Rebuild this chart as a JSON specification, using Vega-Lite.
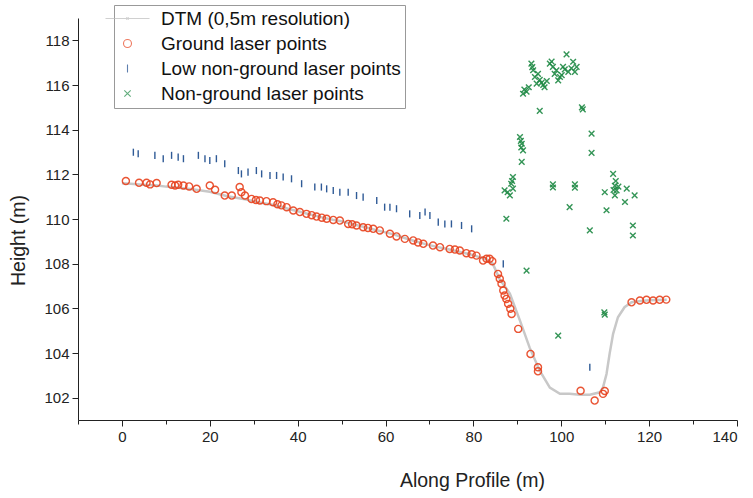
{
  "$schema": "https://vega.github.io/schema/vega-lite/v6.json",
  "width": 659,
  "height": 402,
  "autosize": {"type": "none"},
  "padding": {"left": 78, "top": 18, "right": 16, "bottom": 78},
  "background": "white",
  "config": {
    "view": {"stroke": null},
    "font": "Liberation Sans",
    "axis": {"grid": false, "domainColor": "#222", "tickColor": "#222", "labelColor": "#222", "titleColor": "#222", "labelFont": "Liberation Sans", "titleFont": "Liberation Sans", "labelFontSize": 15, "titleFontSize": 19.5, "titleFontWeight": "normal"}
  },
  "datasets": {
    "dtm": [
      {"x": 0, "h": 111.6}, {"x": 2, "h": 111.58}, {"x": 4, "h": 111.55}, {"x": 6, "h": 111.52}, {"x": 8, "h": 111.5},
      {"x": 10, "h": 111.45}, {"x": 12, "h": 111.42}, {"x": 14, "h": 111.38}, {"x": 16, "h": 111.33}, {"x": 18, "h": 111.28},
      {"x": 20, "h": 111.22}, {"x": 22, "h": 111.12}, {"x": 24, "h": 111.02}, {"x": 26, "h": 110.95}, {"x": 28, "h": 110.88},
      {"x": 30, "h": 110.8}, {"x": 32, "h": 110.72}, {"x": 34, "h": 110.65}, {"x": 36, "h": 110.56}, {"x": 38, "h": 110.45},
      {"x": 40, "h": 110.35}, {"x": 42, "h": 110.25}, {"x": 44, "h": 110.15}, {"x": 46, "h": 110.05}, {"x": 48, "h": 109.97},
      {"x": 50, "h": 109.9}, {"x": 52, "h": 109.8}, {"x": 54, "h": 109.7}, {"x": 56, "h": 109.6}, {"x": 58, "h": 109.5},
      {"x": 60, "h": 109.4}, {"x": 62, "h": 109.3}, {"x": 64, "h": 109.17}, {"x": 66, "h": 109.05}, {"x": 68, "h": 108.93},
      {"x": 70, "h": 108.83}, {"x": 72, "h": 108.74}, {"x": 74, "h": 108.66}, {"x": 76, "h": 108.57}, {"x": 78, "h": 108.48},
      {"x": 80, "h": 108.38}, {"x": 82, "h": 108.25}, {"x": 83, "h": 108.2}, {"x": 84.4, "h": 108.0}, {"x": 86, "h": 107.3},
      {"x": 88.3, "h": 106.66}, {"x": 90.6, "h": 105.45}, {"x": 92.8, "h": 104.24}, {"x": 95.1, "h": 103.21}, {"x": 97.4, "h": 102.45},
      {"x": 99.7, "h": 102.17}, {"x": 101.9, "h": 102.17}, {"x": 104.2, "h": 102.13}, {"x": 106.5, "h": 102.13}, {"x": 108.8, "h": 102.24},
      {"x": 109.5, "h": 102.46}, {"x": 110.3, "h": 103.06}, {"x": 111, "h": 103.96}, {"x": 111.8, "h": 104.86}, {"x": 112.9, "h": 105.6},
      {"x": 114.4, "h": 106.05}, {"x": 116, "h": 106.27}, {"x": 118, "h": 106.33}, {"x": 120, "h": 106.36}, {"x": 122, "h": 106.37}, {"x": 124, "h": 106.38}
    ],
    "pts": [
      {"s": "Ground laser points", "x": 0.9, "h": 111.7}, {"s": "Ground laser points", "x": 3.9, "h": 111.62}, {"s": "Ground laser points", "x": 5.6, "h": 111.62},
      {"s": "Ground laser points", "x": 6.4, "h": 111.55}, {"s": "Ground laser points", "x": 7.9, "h": 111.61}, {"s": "Ground laser points", "x": 11.3, "h": 111.53},
      {"s": "Ground laser points", "x": 12.1, "h": 111.5}, {"s": "Ground laser points", "x": 12.8, "h": 111.53}, {"s": "Ground laser points", "x": 14.0, "h": 111.5},
      {"s": "Ground laser points", "x": 15.3, "h": 111.46}, {"s": "Ground laser points", "x": 17.0, "h": 111.35}, {"s": "Ground laser points", "x": 20.0, "h": 111.5},
      {"s": "Ground laser points", "x": 21.2, "h": 111.31}, {"s": "Ground laser points", "x": 23.4, "h": 111.05}, {"s": "Ground laser points", "x": 25.0, "h": 111.05},
      {"s": "Ground laser points", "x": 26.8, "h": 111.43}, {"s": "Ground laser points", "x": 27.2, "h": 111.2}, {"s": "Ground laser points", "x": 28.0, "h": 111.05},
      {"s": "Ground laser points", "x": 29.5, "h": 110.9}, {"s": "Ground laser points", "x": 30.5, "h": 110.85}, {"s": "Ground laser points", "x": 31.4, "h": 110.83},
      {"s": "Ground laser points", "x": 32.9, "h": 110.8}, {"s": "Ground laser points", "x": 34.4, "h": 110.75}, {"s": "Ground laser points", "x": 35.4, "h": 110.66},
      {"s": "Ground laser points", "x": 36.3, "h": 110.61}, {"s": "Ground laser points", "x": 37.5, "h": 110.53}, {"s": "Ground laser points", "x": 39.0, "h": 110.38},
      {"s": "Ground laser points", "x": 40.5, "h": 110.31}, {"s": "Ground laser points", "x": 42.0, "h": 110.23}, {"s": "Ground laser points", "x": 43.2, "h": 110.17},
      {"s": "Ground laser points", "x": 44.3, "h": 110.11}, {"s": "Ground laser points", "x": 45.5, "h": 110.06}, {"s": "Ground laser points", "x": 46.6, "h": 110.01},
      {"s": "Ground laser points", "x": 48.1, "h": 109.96}, {"s": "Ground laser points", "x": 49.6, "h": 109.93}, {"s": "Ground laser points", "x": 51.5, "h": 109.78},
      {"s": "Ground laser points", "x": 52.4, "h": 109.76}, {"s": "Ground laser points", "x": 53.4, "h": 109.71}, {"s": "Ground laser points", "x": 54.9, "h": 109.63},
      {"s": "Ground laser points", "x": 56.0, "h": 109.6}, {"s": "Ground laser points", "x": 57.2, "h": 109.56}, {"s": "Ground laser points", "x": 58.7, "h": 109.49},
      {"s": "Ground laser points", "x": 61.0, "h": 109.34}, {"s": "Ground laser points", "x": 62.5, "h": 109.22}, {"s": "Ground laser points", "x": 64.4, "h": 109.11},
      {"s": "Ground laser points", "x": 66.3, "h": 109.04}, {"s": "Ground laser points", "x": 67.4, "h": 108.95}, {"s": "Ground laser points", "x": 68.6, "h": 108.89},
      {"s": "Ground laser points", "x": 70.8, "h": 108.81}, {"s": "Ground laser points", "x": 72.4, "h": 108.74}, {"s": "Ground laser points", "x": 74.6, "h": 108.66},
      {"s": "Ground laser points", "x": 75.8, "h": 108.63}, {"s": "Ground laser points", "x": 76.9, "h": 108.59}, {"s": "Ground laser points", "x": 78.4, "h": 108.47},
      {"s": "Ground laser points", "x": 79.6, "h": 108.42}, {"s": "Ground laser points", "x": 80.7, "h": 108.36}, {"s": "Ground laser points", "x": 82.2, "h": 108.14},
      {"s": "Ground laser points", "x": 83.0, "h": 108.22}, {"s": "Ground laser points", "x": 83.7, "h": 108.22}, {"s": "Ground laser points", "x": 84.3, "h": 108.11},
      {"s": "Ground laser points", "x": 85.6, "h": 107.54}, {"s": "Ground laser points", "x": 86.0, "h": 107.32}, {"s": "Ground laser points", "x": 86.4, "h": 107.1},
      {"s": "Ground laser points", "x": 86.8, "h": 106.8}, {"s": "Ground laser points", "x": 87.1, "h": 106.57}, {"s": "Ground laser points", "x": 87.5, "h": 106.42},
      {"s": "Ground laser points", "x": 87.9, "h": 106.2}, {"s": "Ground laser points", "x": 88.4, "h": 105.98}, {"s": "Ground laser points", "x": 88.7, "h": 105.75},
      {"s": "Ground laser points", "x": 90.2, "h": 105.08}, {"s": "Ground laser points", "x": 93.0, "h": 103.96}, {"s": "Ground laser points", "x": 94.7, "h": 103.36},
      {"s": "Ground laser points", "x": 94.7, "h": 103.18}, {"s": "Ground laser points", "x": 104.4, "h": 102.31}, {"s": "Ground laser points", "x": 107.6, "h": 101.87},
      {"s": "Ground laser points", "x": 109.5, "h": 102.17}, {"s": "Ground laser points", "x": 109.9, "h": 102.3}, {"s": "Ground laser points", "x": 116.0, "h": 106.27},
      {"s": "Ground laser points", "x": 117.9, "h": 106.35}, {"s": "Ground laser points", "x": 119.4, "h": 106.38}, {"s": "Ground laser points", "x": 120.9, "h": 106.35},
      {"s": "Ground laser points", "x": 122.4, "h": 106.38}, {"s": "Ground laser points", "x": 123.9, "h": 106.39},
      {"s": "Low non-ground laser points", "x": 2.6, "h": 112.99}, {"s": "Low non-ground laser points", "x": 3.7, "h": 112.92}, {"s": "Low non-ground laser points", "x": 7.5, "h": 112.85},
      {"s": "Low non-ground laser points", "x": 9.4, "h": 112.7}, {"s": "Low non-ground laser points", "x": 11.3, "h": 112.85}, {"s": "Low non-ground laser points", "x": 12.8, "h": 112.77},
      {"s": "Low non-ground laser points", "x": 14.0, "h": 112.7}, {"s": "Low non-ground laser points", "x": 17.4, "h": 112.85}, {"s": "Low non-ground laser points", "x": 18.9, "h": 112.7},
      {"s": "Low non-ground laser points", "x": 20.0, "h": 112.62}, {"s": "Low non-ground laser points", "x": 21.5, "h": 112.7}, {"s": "Low non-ground laser points", "x": 23.4, "h": 112.47},
      {"s": "Low non-ground laser points", "x": 26.5, "h": 112.17}, {"s": "Low non-ground laser points", "x": 27.2, "h": 112.02}, {"s": "Low non-ground laser points", "x": 28.7, "h": 112.1},
      {"s": "Low non-ground laser points", "x": 30.6, "h": 112.17}, {"s": "Low non-ground laser points", "x": 31.8, "h": 112.02}, {"s": "Low non-ground laser points", "x": 33.7, "h": 111.95},
      {"s": "Low non-ground laser points", "x": 35.2, "h": 111.95}, {"s": "Low non-ground laser points", "x": 36.7, "h": 111.88}, {"s": "Low non-ground laser points", "x": 38.6, "h": 111.8},
      {"s": "Low non-ground laser points", "x": 40.9, "h": 111.58}, {"s": "Low non-ground laser points", "x": 43.9, "h": 111.43}, {"s": "Low non-ground laser points", "x": 45.4, "h": 111.43},
      {"s": "Low non-ground laser points", "x": 46.6, "h": 111.35}, {"s": "Low non-ground laser points", "x": 48.1, "h": 111.28}, {"s": "Low non-ground laser points", "x": 49.6, "h": 111.2},
      {"s": "Low non-ground laser points", "x": 51.5, "h": 111.2}, {"s": "Low non-ground laser points", "x": 53.4, "h": 111.05}, {"s": "Low non-ground laser points", "x": 54.9, "h": 110.98},
      {"s": "Low non-ground laser points", "x": 58.0, "h": 110.83}, {"s": "Low non-ground laser points", "x": 59.8, "h": 110.53}, {"s": "Low non-ground laser points", "x": 61.0, "h": 110.53},
      {"s": "Low non-ground laser points", "x": 62.5, "h": 110.46}, {"s": "Low non-ground laser points", "x": 65.5, "h": 110.23}, {"s": "Low non-ground laser points", "x": 67.8, "h": 110.16},
      {"s": "Low non-ground laser points", "x": 69.0, "h": 110.31}, {"s": "Low non-ground laser points", "x": 70.1, "h": 110.16}, {"s": "Low non-ground laser points", "x": 72.0, "h": 109.86},
      {"s": "Low non-ground laser points", "x": 73.5, "h": 109.78}, {"s": "Low non-ground laser points", "x": 75.0, "h": 109.78}, {"s": "Low non-ground laser points", "x": 77.3, "h": 109.71},
      {"s": "Low non-ground laser points", "x": 79.6, "h": 109.56}, {"s": "Low non-ground laser points", "x": 86.8, "h": 107.99}, {"s": "Low non-ground laser points", "x": 106.5, "h": 103.36},
      {"s": "Non-ground laser points", "x": 91.3, "h": 115.61}, {"s": "Non-ground laser points", "x": 92.1, "h": 115.7}, {"s": "Non-ground laser points", "x": 91.6, "h": 115.8},
      {"s": "Non-ground laser points", "x": 93.2, "h": 116.96}, {"s": "Non-ground laser points", "x": 93.6, "h": 116.66}, {"s": "Non-ground laser points", "x": 94.0, "h": 116.36},
      {"s": "Non-ground laser points", "x": 94.4, "h": 116.06}, {"s": "Non-ground laser points", "x": 93.4, "h": 116.8}, {"s": "Non-ground laser points", "x": 95.1, "h": 116.23},
      {"s": "Non-ground laser points", "x": 95.9, "h": 116.0}, {"s": "Non-ground laser points", "x": 96.7, "h": 116.18}, {"s": "Non-ground laser points", "x": 96.2, "h": 115.9},
      {"s": "Non-ground laser points", "x": 97.4, "h": 116.96}, {"s": "Non-ground laser points", "x": 98.1, "h": 116.81}, {"s": "Non-ground laser points", "x": 97.8, "h": 117.05},
      {"s": "Non-ground laser points", "x": 98.9, "h": 116.66}, {"s": "Non-ground laser points", "x": 99.7, "h": 116.36}, {"s": "Non-ground laser points", "x": 99.3, "h": 116.21},
      {"s": "Non-ground laser points", "x": 100.4, "h": 116.81}, {"s": "Non-ground laser points", "x": 101.6, "h": 116.59}, {"s": "Non-ground laser points", "x": 100.1, "h": 116.44},
      {"s": "Non-ground laser points", "x": 101.2, "h": 117.37}, {"s": "Non-ground laser points", "x": 102.7, "h": 117.04}, {"s": "Non-ground laser points", "x": 103.5, "h": 116.81},
      {"s": "Non-ground laser points", "x": 103.1, "h": 116.59}, {"s": "Non-ground laser points", "x": 95.1, "h": 114.84}, {"s": "Non-ground laser points", "x": 104.9, "h": 114.91},
      {"s": "Non-ground laser points", "x": 104.7, "h": 115.0}, {"s": "Non-ground laser points", "x": 90.6, "h": 113.67}, {"s": "Non-ground laser points", "x": 91.0, "h": 113.37},
      {"s": "Non-ground laser points", "x": 91.3, "h": 113.07}, {"s": "Non-ground laser points", "x": 90.8, "h": 113.5}, {"s": "Non-ground laser points", "x": 91.0, "h": 112.56},
      {"s": "Non-ground laser points", "x": 89.0, "h": 111.88}, {"s": "Non-ground laser points", "x": 88.6, "h": 111.58}, {"s": "Non-ground laser points", "x": 87.1, "h": 111.28},
      {"s": "Non-ground laser points", "x": 88.3, "h": 111.06}, {"s": "Non-ground laser points", "x": 89.0, "h": 111.36}, {"s": "Non-ground laser points", "x": 87.8, "h": 111.2},
      {"s": "Non-ground laser points", "x": 87.5, "h": 110.01}, {"s": "Non-ground laser points", "x": 106.9, "h": 113.82}, {"s": "Non-ground laser points", "x": 106.9, "h": 112.96},
      {"s": "Non-ground laser points", "x": 98.1, "h": 111.55}, {"s": "Non-ground laser points", "x": 98.1, "h": 111.41}, {"s": "Non-ground laser points", "x": 103.1, "h": 111.4},
      {"s": "Non-ground laser points", "x": 103.1, "h": 111.55}, {"s": "Non-ground laser points", "x": 101.9, "h": 110.53}, {"s": "Non-ground laser points", "x": 106.5, "h": 109.49},
      {"s": "Non-ground laser points", "x": 109.9, "h": 111.2}, {"s": "Non-ground laser points", "x": 111.8, "h": 112.02}, {"s": "Non-ground laser points", "x": 112.2, "h": 111.49},
      {"s": "Non-ground laser points", "x": 112.6, "h": 111.28}, {"s": "Non-ground laser points", "x": 112.2, "h": 111.06}, {"s": "Non-ground laser points", "x": 112.4, "h": 111.7},
      {"s": "Non-ground laser points", "x": 114.9, "h": 111.36}, {"s": "Non-ground laser points", "x": 114.5, "h": 110.76}, {"s": "Non-ground laser points", "x": 110.3, "h": 110.39},
      {"s": "Non-ground laser points", "x": 116.7, "h": 111.06}, {"s": "Non-ground laser points", "x": 116.3, "h": 109.71}, {"s": "Non-ground laser points", "x": 116.3, "h": 109.26},
      {"s": "Non-ground laser points", "x": 92.1, "h": 107.69}, {"s": "Non-ground laser points", "x": 99.3, "h": 104.78}, {"s": "Non-ground laser points", "x": 109.9, "h": 105.72},
      {"s": "Non-ground laser points", "x": 109.8, "h": 105.82}, {"s": "Non-ground laser points", "x": 94.7, "h": 116.5}, {"s": "Non-ground laser points", "x": 95.5, "h": 116.1},
      {"s": "Non-ground laser points", "x": 92.6, "h": 115.9}, {"s": "Non-ground laser points", "x": 98.5, "h": 116.5}, {"s": "Non-ground laser points", "x": 100.8, "h": 116.7},
      {"s": "Non-ground laser points", "x": 102.3, "h": 116.75}, {"s": "Non-ground laser points", "x": 113.0, "h": 111.45}, {"s": "Non-ground laser points", "x": 111.9, "h": 111.3},
      {"s": "Non-ground laser points", "x": 88.8, "h": 111.7}, {"s": "Non-ground laser points", "x": 90.9, "h": 113.2}
    ]
  },
  "layer": [
    {
      "data": {"name": "dtm"},
      "mark": {"type": "line", "color": "#c8c8c8", "strokeWidth": 2.5},
      "encoding": {
        "x": {"field": "x", "type": "quantitative", "scale": {"domain": [-10, 140], "nice": false, "zero": false},
          "axis": {"title": "Along Profile (m)", "values": [-10, 0, 10, 20, 30, 40, 50, 60, 70, 80, 90, 100, 110, 120, 130, 140],
            "labelExpr": "datum.value % 20 === 0 ? datum.label : ''", "tickSize": {"condition": {"test": "datum.value % 20 === 0", "value": 6}, "value": 4},
            "labelFontSize": 15, "labelPadding": 3, "labelOverlap": false, "titleX": 394, "titleY": 60, "titleBaseline": "middle"}},
        "y": {"field": "h", "type": "quantitative", "scale": {"domain": [101, 119], "nice": false, "zero": false},
          "axis": {"title": "Height (m)", "values": [102, 104, 106, 108, 110, 112, 114, 116, 118],
            "tickSize": 6, "labelFontSize": 15, "labelPadding": 3, "labelOverlap": false, "titleX": -60, "titleY": 222, "titleBaseline": "middle"}}
      }
    },
    {
      "data": {"name": "pts"},
      "mark": {"type": "point", "filled": false, "strokeWidth": 1.4, "size": 50, "opacity": 0.9},
      "encoding": {
        "x": {"field": "x", "type": "quantitative"},
        "y": {"field": "h", "type": "quantitative"},
        "color": {"field": "s", "type": "nominal",
          "scale": {"domain": ["DTM (0,5m resolution)", "Ground laser points", "Low non-ground laser points", "Non-ground laser points"],
            "range": ["#bdbdbd", "#e8431f", "#1a4a8c", "#1f8a45"]},
          "legend": {"title": null, "orient": "none", "legendX": 36, "legendY": -13, "labelFontSize": 19, "labelFont": "Liberation Sans", "labelColor": "#111", "labelLimit": 0,
            "strokeColor": "#999", "padding": 4, "rowPadding": 5, "labelOffset": 24, "symbolSize": 64, "symbolStrokeWidth": 1.1, "symbolOpacity": 0.7}},
        "shape": {"field": "s", "type": "nominal",
          "scale": {"domain": ["DTM (0,5m resolution)", "Ground laser points", "Low non-ground laser points", "Non-ground laser points"],
            "range": ["M-5.5,0L5.5,0M-0.3,-0.3L0.3,0.3M-0.3,0.3L0.3,-0.3", "circle", "M0,-1L0,1", "M-0.8,-0.8L0.8,0.8M-0.8,0.8L0.8,-0.8"]}}
      }
    }
  ]
}
